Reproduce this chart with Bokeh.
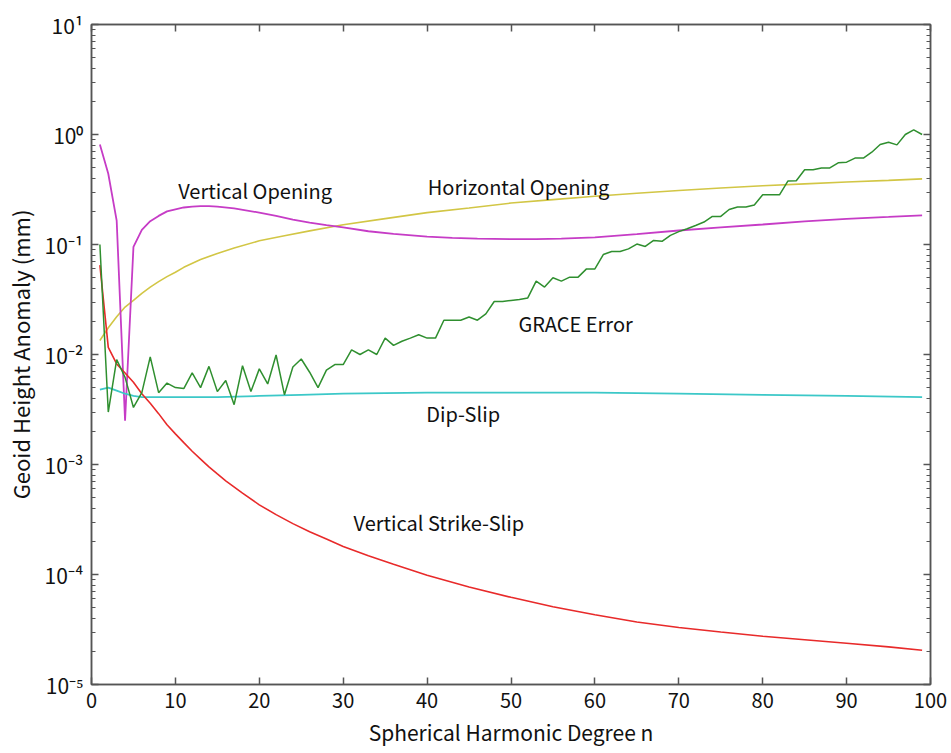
from bokeh.plotting import figure
from bokeh.models import (LogAxis, LinearAxis, Range1d, LogTicker, FixedTicker,
                          CustomJSTickFormatter, ColumnDataSource, CustomLabelingPolicy)
from bokeh.embed import file_html
from bokeh.resources import INLINE
from bokeh.core.properties import value

# ---------------- data ----------------
grace_n = list(range(1, 100))
grace_err = [0.1, 0.0030, 0.0090, 0.0062, 0.0033, 0.0045, 0.0095, 0.0045, 0.0055, 0.0050,
             0.0049, 0.0068, 0.0050, 0.0078, 0.0046, 0.0058, 0.0035, 0.0079, 0.0046, 0.0074,
             0.0054, 0.0099, 0.0043, 0.0077, 0.0091, 0.0069, 0.0050, 0.0072, 0.0081, 0.0081,
             0.0110, 0.0100, 0.0110, 0.0100, 0.0141, 0.0121, 0.0132, 0.0141, 0.0151, 0.0141,
             0.0141, 0.0205, 0.0205, 0.0205, 0.0219, 0.0205, 0.0234, 0.0303, 0.0303, 0.0310,
             0.0316, 0.0327, 0.0465, 0.0410, 0.0498, 0.0465, 0.0505, 0.0505, 0.0600, 0.0600,
             0.0810, 0.0863, 0.0863, 0.0912, 0.1010, 0.0960, 0.1090, 0.1070, 0.1210, 0.1310,
             0.1390, 0.1490, 0.1600, 0.1800, 0.1800, 0.2080, 0.2190, 0.2190, 0.2290, 0.2830,
             0.2830, 0.2830, 0.3770, 0.3800, 0.4780, 0.4780, 0.4970, 0.4970, 0.5530, 0.5600,
             0.6100, 0.6100, 0.6900, 0.8100, 0.8500, 0.8050, 1.0000, 1.1000, 1.0000]

vopen_n = [1, 2, 3, 4, 5, 6, 7, 8, 9, 10, 11, 12, 13, 14, 15, 17, 20, 22, 24, 26, 28, 30,
           33, 36, 40, 43, 46, 50, 53, 56, 60, 65, 70, 75, 80, 85, 90, 95, 99]
vopen = [0.81, 0.44, 0.165, 0.0025, 0.095, 0.136, 0.163, 0.182, 0.200, 0.209, 0.217, 0.221,
         0.223, 0.223, 0.221, 0.213, 0.195, 0.182, 0.168, 0.158, 0.150, 0.143, 0.132, 0.125,
         0.118, 0.115, 0.113, 0.112, 0.112, 0.113, 0.116, 0.124, 0.134, 0.143, 0.152, 0.162,
         0.171, 0.178, 0.184]

hopen_n = [1, 2, 3, 4, 5, 6, 7, 8, 9, 10, 11, 13, 15, 17, 20, 23, 26, 30, 35, 40, 45, 50,
           55, 60, 65, 70, 75, 80, 85, 90, 95, 99]
hopen = [0.0134, 0.0175, 0.022, 0.027, 0.031, 0.036, 0.041, 0.046, 0.051, 0.056, 0.062,
         0.073, 0.083, 0.093, 0.108, 0.120, 0.133, 0.151, 0.172, 0.195, 0.215, 0.238, 0.256,
         0.275, 0.292, 0.310, 0.326, 0.342, 0.356, 0.370, 0.383, 0.395]

dip_n = [1, 2, 3, 4, 5, 6, 8, 10, 15, 20, 25, 30, 40, 50, 60, 70, 80, 90, 99]
dip = [0.0048, 0.0050, 0.0047, 0.0044, 0.0042, 0.0041, 0.0041, 0.0041, 0.0041, 0.0042,
       0.0043, 0.0044, 0.0045, 0.0045, 0.0045, 0.0044, 0.0043, 0.0042, 0.0041]

vss_n = [1, 2, 3, 4, 5, 6, 7, 8, 9, 10, 11, 12, 13, 14, 15, 16, 18, 20, 22, 24, 26, 28,
         30, 33, 36, 40, 45, 50, 55, 60, 65, 70, 75, 80, 85, 90, 95, 99]
vss = [0.065, 0.0116, 0.0082, 0.0068, 0.0056, 0.0044, 0.0036, 0.0029, 0.0023, 0.0019,
       0.00158, 0.00132, 0.00112, 0.00095, 0.00082, 0.00071, 0.00055, 0.00043, 0.00035,
       0.00029, 0.000245, 0.00021, 0.00018, 0.000148, 0.000124, 0.0000985, 0.000077,
       0.000062, 0.000051, 0.000043, 0.000037, 0.000033, 0.000030, 0.0000275, 0.0000255,
       0.0000237, 0.0000220, 0.0000205]

label_text = ["Vertical Opening", "Horizontal Opening", "GRACE Error", "Dip-Slip",
              "Vertical Strike-Slip"]
label_x = [19.5, 50.9, 57.7, 44.3, 41.4]
label_y = [0.31, 0.336, 0.0191, 0.0029, 0.000297]

x_ticks = [0, 10, 20, 30, 40, 50, 60, 70, 80, 90, 100]
y_tick_labels = ["10\u207b\u2075", "10\u207b\u2074", "10\u207b\u00b3", "10\u207b\u00b2",
                 "10\u207b\u00b9", "10\u2070", "10\u00b9"]

# ---------------- figure ----------------
FONT = "Noto Sans CJK JP"
AX = "#555555"

p = figure(width=951, height=753, y_axis_type="log",
           x_range=Range1d(0, 100), y_range=Range1d(1e-5, 10),
           output_backend="svg", toolbar_location=None,
           min_border_left=91, min_border_right=21, min_border_top=24,
           min_border_bottom=69)
p.background_fill_color = "white"
p.border_fill_color = "white"
p.outline_line_color = AX
p.outline_line_width = 1.5
p.xgrid.visible = False
p.ygrid.visible = False

# lines
p.line(hopen_n, hopen, line_color="#d2c645", line_width=1.6)
p.line(vopen_n, vopen, line_color="#c63cc6", line_width=1.8)
p.line(dip_n, dip, line_color="#3cc8c8", line_width=1.8)
p.line(vss_n, vss, line_color="#e82a2a", line_width=1.6)
p.line(grace_n, grace_err, line_color="#2f8f2f", line_width=1.5)

src = ColumnDataSource(dict(x=label_x, y=label_y, t=label_text))
p.text(x="x", y="y", text="t", source=src, text_align="center",
       text_baseline="middle", text_font=value(FONT), text_font_size="20px",
       text_color="#111111")

# axes styling
def style_axis(ax):
    ax.axis_line_color = AX
    ax.axis_line_width = 1.5
    ax.major_tick_line_color = AX
    ax.minor_tick_line_color = AX
    ax.major_tick_line_width = 1.5
    ax.minor_tick_line_width = 1
    ax.major_tick_in = 7
    ax.major_tick_out = 0
    ax.minor_tick_in = 4
    ax.minor_tick_out = 0
    ax.major_label_text_font = FONT
    ax.major_label_text_color = "#111111"
    ax.axis_label_text_font = FONT
    ax.axis_label_text_font_style = "normal"
    ax.axis_label_text_color = "#111111"

xa = p.xaxis[0]
style_axis(xa)
xa.ticker = FixedTicker(ticks=x_ticks)
xa.minor_tick_line_color = None
xa.major_label_text_font_size = "20px"
xa.major_label_standoff = 8
xa.axis_label = "Spherical Harmonic Degree n"
xa.axis_label_text_font_size = "21px"
xa.axis_label_standoff = 6

ya = p.yaxis[0]
style_axis(ya)
ya.ticker = LogTicker(num_minor_ticks=10)
ya.formatter = CustomJSTickFormatter(args=dict(labels=y_tick_labels), code="""
const e = Math.round(Math.log10(tick));
const i = e + 5;
return (i >= 0 && i < labels.length) ? labels[i] : "";
""")
ya.major_label_text_font_size = "21px"
ya.major_label_standoff = 8
ya.axis_label = "Geoid Height Anomaly (mm)"
ya.axis_label_text_font_size = "22px"
ya.axis_label_standoff = 6

# mirrored axes: ticks only, labels hidden by the labeling policy
hide = CustomLabelingPolicy(code="""
for (const i of Array.from(indices)) indices.unset(i);
return indices;
""")

ra = LogAxis(ticker=LogTicker(num_minor_ticks=10))
style_axis(ra)
ra.major_label_policy = hide
ra.major_label_text_font_size = "4px"
ra.major_label_standoff = 0
p.add_layout(ra, "right")

ta = LinearAxis(ticker=FixedTicker(ticks=x_ticks))
style_axis(ta)
ta.minor_tick_line_color = None
ta.major_label_policy = CustomLabelingPolicy(code="""
for (const i of Array.from(indices)) indices.unset(i);
return indices;
""")
ta.major_label_text_font_size = "4px"
ta.major_label_standoff = 0
p.add_layout(ta, "above")

open("out.html", "w").write(file_html(p, INLINE))
